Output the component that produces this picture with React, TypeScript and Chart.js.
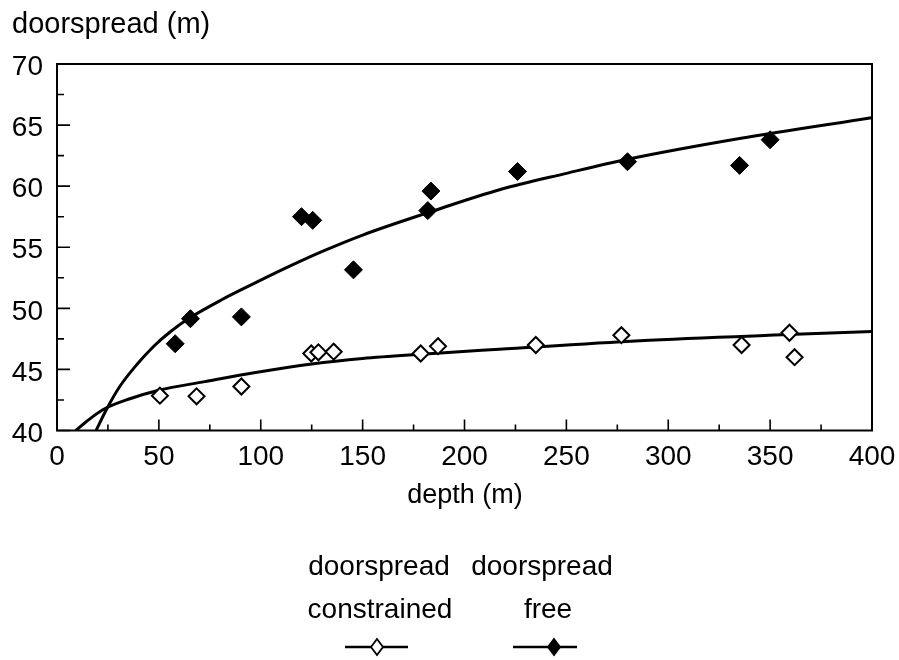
import React, { useEffect, useRef } from "react";
import { Chart, registerables } from "chart.js";

Chart.register(...registerables);

// ---- data ----
const xTicks = [0, 50, 100, 150, 200, 250, 300, 350, 400];
const yTicks = [40, 45, 50, 55, 60, 65, 70];

const freeX = [58, 65.5, 90.5, 120, 125.5, 145.5, 182, 183.5, 226, 280, 335, 350];
const freeY = [47.1, 49.15, 49.3, 57.5, 57.2, 53.15, 58.0, 59.6, 61.2, 62.0, 61.7, 63.8];

const consX = [50.5, 68.5, 90.5, 124.8, 128.3, 135.8, 178.5, 187, 235, 277, 336, 359.5, 362];
const consY = [42.85, 42.8, 43.6, 46.3, 46.4, 46.45, 46.3, 46.9, 47.0, 47.8, 47.0, 48.0, 46.0];

// fitted curves
const freeFitX = [19.2, 24.2, 30.8, 39.2, 47.5, 55.8, 65, 80.8, 97.5, 114.2, 130.8, 150, 183.3, 218, 250, 280, 335, 400];
const freeFitY = [40, 41.7, 43.6, 45.4, 46.9, 48.1, 49.2, 50.7, 52.1, 53.45, 54.7, 56.0, 57.9, 59.75, 61.05, 62.2, 63.9, 65.6];

const consFitX = [9.2, 14.2, 22.5, 35.8, 50, 72.5, 97.5, 125, 150, 179, 217, 286, 359, 400];
const consFitY = [40, 40.7, 41.7, 42.6, 43.3, 44.0, 44.75, 45.45, 45.9, 46.25, 46.65, 47.35, 47.85, 48.1];

const yTitle = "doorspread (m)";
const xTitle = "depth (m)";
const legendTop = ["doorspread", "doorspread"];
const legendBottom = ["constrained", "free"];

const FONT = '"Liberation Sans", Arial, Helvetica, sans-serif';

const pts = (xs: number[], ys: number[]) => xs.map((x, i) => ({ x, y: ys[i] }));

const framePlugin = {
  id: "frame",
  afterDatasetsDraw(chart: any) {
    const { ctx, chartArea: a, scales } = chart;
    const xs = scales.x;
    const ys = scales.y;
    ctx.save();
    ctx.strokeStyle = "#000";
    ctx.lineWidth = 2;
    ctx.strokeRect(a.left, a.top, a.right - a.left, a.bottom - a.top);
    ctx.lineWidth = 1.6;
    ctx.beginPath();
    // y ticks (inward)
    for (let i = 0; i < yTicks.length; i++) {
      const py = ys.getPixelForValue(yTicks[i]);
      ctx.moveTo(a.left, py);
      ctx.lineTo(a.left + 13, py);
      if (i < yTicks.length - 1) {
        const pm = ys.getPixelForValue((yTicks[i] + yTicks[i + 1]) / 2);
        ctx.moveTo(a.left, pm);
        ctx.lineTo(a.left + 7, pm);
      }
    }
    // x ticks (inward)
    for (let i = 0; i < xTicks.length; i++) {
      const px = xs.getPixelForValue(xTicks[i]);
      ctx.moveTo(px, a.bottom);
      ctx.lineTo(px, a.bottom - 11);
      if (i < xTicks.length - 1) {
        const pm = xs.getPixelForValue((xTicks[i] + xTicks[i + 1]) / 2);
        ctx.moveTo(pm, a.bottom);
        ctx.lineTo(pm, a.bottom - 6);
      }
    }
    ctx.stroke();
    ctx.restore();
  },
  afterDraw(chart: any) {
    const { ctx } = chart;
    ctx.save();
    ctx.fillStyle = "#000";
    ctx.textBaseline = "alphabetic";
    ctx.font = `29px ${FONT}`;
    ctx.textAlign = "left";
    ctx.fillText(yTitle, 12, 33);
    ctx.textAlign = "center";
    ctx.font = `27px ${FONT}`;
    ctx.fillText(xTitle, 465, 503);
    ctx.font = `28px ${FONT}`;
    const colTop = [379, 542];
    const colBot = [380, 548];
    for (let i = 0; i < 2; i++) {
      ctx.fillText(legendTop[i], colTop[i], 575);
      ctx.fillText(legendBottom[i], colBot[i], 618);
    }
    // legend symbols
    const lines = [
      [345, 408, 377, false],
      [513, 577, 554, true],
    ];
    ctx.strokeStyle = "#000";
    for (const [x0, x1, xc, filled] of lines as any) {
      ctx.lineWidth = 2.5;
      ctx.beginPath();
      ctx.moveTo(x0, 647);
      ctx.lineTo(x1, 647);
      ctx.stroke();
      ctx.beginPath();
      ctx.moveTo(xc, 647 - 8);
      ctx.lineTo(xc + 6, 647);
      ctx.lineTo(xc, 647 + 8);
      ctx.lineTo(xc - 6, 647);
      ctx.closePath();
      ctx.fillStyle = filled ? "#000" : "#fff";
      ctx.fill();
      ctx.lineWidth = 1.8;
      ctx.stroke();
    }
    ctx.restore();
  },
};

export default function App() {
  const ref = useRef<HTMLCanvasElement | null>(null);
  useEffect(() => {
    if (!ref.current) return;
    Chart.defaults.font.family = FONT;
    const chart = new Chart(ref.current, {
      type: "scatter",
      data: {
        datasets: [
          {
            label: "doorspread free",
            data: pts(freeX, freeY),
            pointStyle: "rectRot",
            pointRadius: 9,
            backgroundColor: "#000",
            borderColor: "#000",
            borderWidth: 1,
            showLine: false,
          },
          {
            label: "doorspread constrained",
            data: pts(consX, consY),
            pointStyle: "rectRot",
            pointRadius: 8,
            backgroundColor: "#fff",
            borderColor: "#000",
            borderWidth: 2,
            showLine: false,
          },
          {
            type: "line",
            label: "free fit",
            data: pts(freeFitX, freeFitY),
            borderColor: "#000",
            borderWidth: 3,
            pointRadius: 0,
            fill: false,
            cubicInterpolationMode: "monotone",
          } as any,
          {
            type: "line",
            label: "constrained fit",
            data: pts(consFitX, consFitY),
            borderColor: "#000",
            borderWidth: 3,
            pointRadius: 0,
            fill: false,
            cubicInterpolationMode: "monotone",
          } as any,
        ],
      },
      options: {
        animation: false,
        responsive: false,
        layout: { padding: { top: 64, right: 27, left: 0, bottom: 0 } },
        plugins: {
          legend: { display: false },
          tooltip: { enabled: false },
          title: { display: false },
        },
        scales: {
          x: {
            type: "linear",
            min: 0,
            max: 400,
            afterBuildTicks: (s: any) => {
              s.ticks = xTicks.map((v) => ({ value: v }));
            },
            afterFit: (s: any) => {
              s.height = 229.5;
              s.paddingLeft = 0;
              s.paddingRight = 0;
            },
            ticks: {
              font: { size: 28, family: FONT },
              color: "#000",
              padding: 10,
              maxRotation: 0,
              autoSkip: false,
            },
            grid: { display: false, drawTicks: false },
            border: { display: false },
          },
          y: {
            type: "linear",
            min: 40,
            max: 70,
            afterBuildTicks: (s: any) => {
              s.ticks = yTicks.map((v) => ({ value: v }));
            },
            afterFit: (s: any) => {
              s.width = 57;
              s.paddingTop = 0;
              s.paddingBottom = 0;
            },
            ticks: {
              font: { size: 28, family: FONT },
              color: "#000",
              padding: 14,
              labelOffset: 3.5,
              autoSkip: false,
            },
            grid: { display: false, drawTicks: false },
            border: { display: false },
          },
        },
      },
      plugins: [framePlugin],
    } as any);
    return () => chart.destroy();
  }, []);
  return (
    <div style={{ position: "absolute", left: 0, top: 0, width: 899, height: 660, background: "#fff" }}>
      <canvas ref={ref} width={899} height={660} />
    </div>
  );
}
